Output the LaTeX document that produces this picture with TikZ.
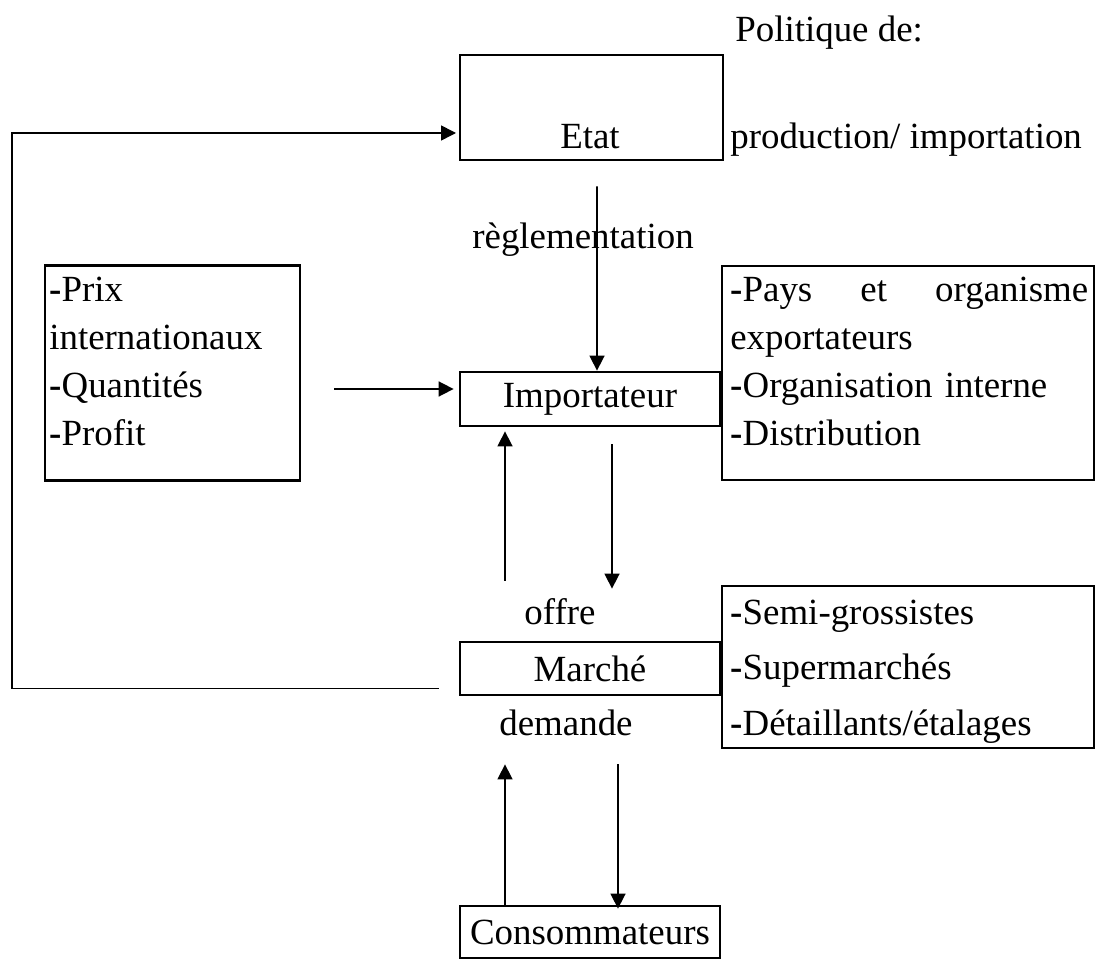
\documentclass[tikz,border=0pt]{standalone}
\usepackage{fontspec}
\setmainfont{Liberation Serif}
\usetikzlibrary{arrows.meta, positioning}

\tikzset{
  box/.style={draw, line width=1.6pt, inner sep=0pt},
  txt/.style={inner sep=0pt},
  arr/.style={-{Triangle[length=8.5pt, width=8.5pt]}, line width=0.9pt},
}

\begin{document}
\begin{tikzpicture}[x=0.02cm, y=-0.02cm, font=\fontsize{21}{27.3}\selectfont]
\useasboundingbox (0,0) rectangle (1102,959);

% === boxes ===
\node[box, minimum width=5.26cm, minimum height=2.1cm] (etat) at (591.5,107.5) {};
\node[box, minimum width=5.1cm, minimum height=4.3cm] (facteurs) at (172.5,373) {};
\node[box, minimum width=5.2cm, minimum height=1.08cm] (imp) at (590,399) {Importateur};
\node[box, minimum width=7.44cm, minimum height=4.28cm] (fournis) at (908,373) {};
\node[box, minimum width=5.2cm, minimum height=1.06cm] (marche) at (590,668.5) {Marché};
\node[box, minimum width=7.44cm, minimum height=3.24cm] (clients) at (908,667) {};
\node[box, minimum width=5.2cm, minimum height=1.04cm] (cons) at (590,932) {Consommateurs};

% === texts ===
\node[txt, anchor=base] (etattxt) at (590,149) {Etat};
\node[txt, anchor=base west] (politique) at (735,42) {Politique de:};
\node[txt, anchor=base west] (prodimp) at (730,149) {production/ importation};
\node[txt, anchor=base] (regl) at (583,249) {règlementation};
\node[txt, anchor=base] (offre) at (560,624) {offre};
\node[txt, anchor=base] (demande) at (566,735) {demande};

\node[txt, anchor=base west, text width=5cm, align=left] (facttxt) at (49,302)
  {\textbf{-}Prix\\internationaux\\\textbf{-}Quantités\\\textbf{-}Profit};
\node[txt, anchor=base west, text width=7.16cm, align=left] (fourntxt) at (730,302)
  {\textbf{-}Pays \hfill et \hfill organisme\\exportateurs\\\textbf{-}Organisation interne\\\textbf{-}Distribution};
\node[txt, anchor=base west, text width=7.16cm, align=left,
      font=\fontsize{21}{31.6}\selectfont] (clitxt) at (730,624)
  {\textbf{-}Semi-grossistes\\\textbf{-}Supermarchés\\\textbf{-}Détaillants/étalages};

% === connectors ===
\coordinate (fbstart) at ([shift={(-20,20)}]marche.west);
\coordinate (fbcorner) at (12,133);
\coordinate (fbend) at (456,133);
\draw[arr] (fbstart) -| (fbcorner) -- (fbend);

\draw[arr] ([shift={(5.5,25)}]etat.south) -- ([shift={(7,0)}]imp.north);
\draw[arr] ([shift={(33,16)}]facteurs.east) -- ([shift={(-5,-10)}]imp.west);

\draw[arr] ([shift={(-85,-60)}]marche.north) -- ([shift={(-85,4)}]imp.south);
\draw[arr] ([shift={(22,17)}]imp.south) -- ([shift={(22,-52)}]marche.north);

\draw[arr] ([shift={(-85,0)}]cons.north) -- ([shift={(-85,68)}]marche.south);
\draw[arr] ([shift={(28,68)}]marche.south) -- ([shift={(28,4)}]cons.north);

\end{tikzpicture}
\end{document}
